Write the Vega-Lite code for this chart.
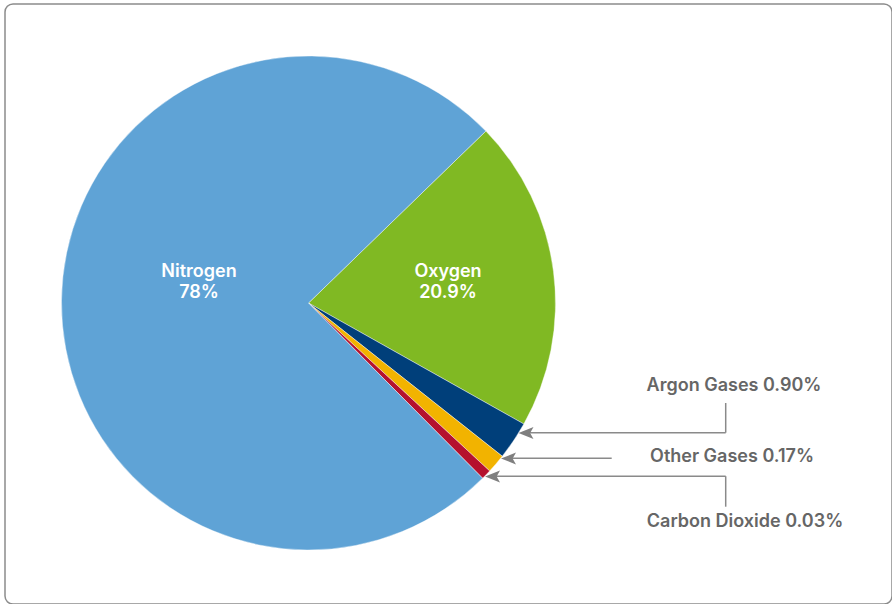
{
  "$schema": "https://vega.github.io/schema/vega-lite/v6.json",
  "width": 887,
  "height": 600,
  "autosize": {"type": "none"},
  "padding": {"left": 5, "top": 4, "right": 0, "bottom": 0},
  "background": "white",
  "config": {
    "view": {"stroke": "#8c8c8c", "strokeWidth": 1.5, "cornerRadius": 8},
    "text": {"font": "Inter"}
  },
  "datasets": {
    "slices": [
      {"gas": "Oxygen", "share": 20.4, "ord": 1},
      {"gas": "Argon Gases", "share": 2.5, "ord": 2},
      {"gas": "Other Gases", "share": 1.25, "ord": 3},
      {"gas": "Carbon Dioxide", "share": 0.65, "ord": 4},
      {"gas": "Nitrogen", "share": 75.2, "ord": 5}
    ],
    "inner": [
      {"label": "Nitrogen\n78%", "lx": 194, "ly": 268},
      {"label": "Oxygen\n20.9%", "lx": 443, "ly": 268}
    ],
    "outer": [
      {"label": "Argon Gases 0.90%", "lx": 729, "ly": 382},
      {"label": "Other Gases 0.17%", "lx": 727, "ly": 453},
      {"label": "Carbon Dioxide 0.03%", "lx": 740, "ly": 518}
    ],
    "leaders": [
      {"x1": 720.7, "y1": 399, "x2": 720.7, "y2": 428.7},
      {"x1": 720.7, "y1": 428.7, "x2": 520, "y2": 428.7},
      {"x1": 606.7, "y1": 454.2, "x2": 503, "y2": 454.2},
      {"x1": 720.7, "y1": 472.2, "x2": 487, "y2": 472.2},
      {"x1": 720.7, "y1": 472.2, "x2": 720.7, "y2": 502.7}
    ],
    "arrows": [
      {"ax": 513.5, "ay": 429},
      {"ax": 496, "ay": 454.5},
      {"ax": 480, "ay": 472.5}
    ]
  },
  "layer": [
    {
      "data": {"name": "slices"},
      "mark": {"type": "arc", "outerRadius": 247, "stroke": "white", "strokeWidth": 0.4},
      "encoding": {
        "theta": {"field": "share", "type": "quantitative", "stack": true, "scale": {"range": [0.801, 7.0842]}},
        "order": {"field": "ord", "type": "quantitative"},
        "x": {"datum": 303.5, "type": "quantitative", "scale": {"domain": [0, 887], "nice": false, "zero": false}, "axis": null},
        "y": {"datum": 299, "type": "quantitative", "scale": {"domain": [0, 600], "reverse": true, "nice": false, "zero": false}, "axis": null},
        "color": {
          "field": "gas", "type": "nominal", "legend": null,
          "scale": {
            "domain": ["Nitrogen", "Oxygen", "Argon Gases", "Other Gases", "Carbon Dioxide"],
            "range": ["#5fa3d6", "#80b923", "#003f7a", "#f2b300", "#b5112e"]
          }
        }
      }
    },
    {
      "data": {"name": "leaders"},
      "mark": {"type": "rule", "color": "#8a8a8a", "strokeWidth": 1.5},
      "encoding": {
        "x": {"field": "x1", "type": "quantitative"},
        "y": {"field": "y1", "type": "quantitative"},
        "x2": {"field": "x2"},
        "y2": {"field": "y2"}
      }
    },
    {
      "data": {"name": "arrows"},
      "mark": {"type": "point", "shape": "M0,0L2,-0.8L1.55,0L2,0.8Z", "size": 225, "filled": true, "color": "#7f7f7f", "opacity": 1},
      "encoding": {
        "x": {"field": "ax", "type": "quantitative"},
        "y": {"field": "ay", "type": "quantitative"}
      }
    },
    {
      "data": {"name": "inner"},
      "mark": {"type": "text", "color": "white", "fontSize": 18, "fontWeight": 600, "lineBreak": "\n", "lineHeight": 20.5, "align": "center", "baseline": "middle"},
      "encoding": {
        "x": {"field": "lx", "type": "quantitative"},
        "y": {"field": "ly", "type": "quantitative"},
        "text": {"field": "label"}
      }
    },
    {
      "data": {"name": "outer"},
      "mark": {"type": "text", "color": "#666666", "fontSize": 18, "fontWeight": 600, "align": "center", "baseline": "middle"},
      "encoding": {
        "x": {"field": "lx", "type": "quantitative"},
        "y": {"field": "ly", "type": "quantitative"},
        "text": {"field": "label"}
      }
    }
  ]
}
